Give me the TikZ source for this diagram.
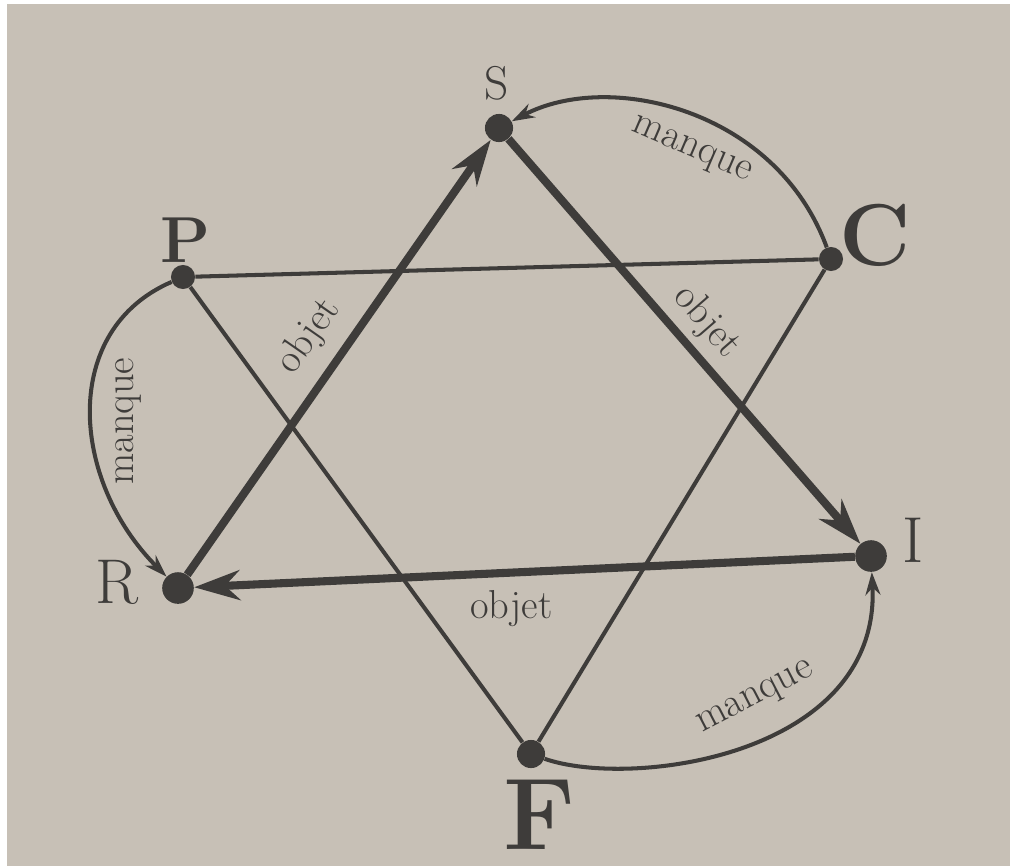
\documentclass[tikz,border=0pt]{standalone}
\usepackage{tikz}
\usetikzlibrary{arrows.meta,positioning}
\definecolor{Encre}{RGB}{62,60,58}
\definecolor{Papier}{RGB}{199,192,182}
\tikzset{
  sommet/.style={circle, fill=Encre, inner sep=0pt, minimum size=16pt},
  lettre/.style={text=Encre, inner sep=0pt},
  % thick arrows: the "objet" triangle, thin lines: the other triangle
  objetrel/.style={-{Stealth[length=26pt,width=17pt]}, line width=4.6pt, Encre},
  simplerel/.style={line width=2.3pt, Encre},
  manquerel/.style={-{Stealth[length=13pt,width=8.5pt]}, line width=2.3pt, Encre},
  etiquette/.style={font=\fontsize{23}{26}\selectfont, text=Encre, inner sep=2pt},
}

\begin{document}
\begin{tikzpicture}[x=0.02cm,y=-0.02cm]

  \useasboundingbox (0,0) rectangle (1010,866);
  \fill[white]  (0,0) rectangle (1010,866);
  \fill[Papier] (7,4) rectangle (1010,866);

  \node[sommet]                      (S) at (499,128) {};
  \node[sommet,minimum size=13.7pt]  (C) at (831,259) {};
  \node[sommet,minimum size=13.7pt]  (P) at (183,277) {};
  \node[sommet,minimum size=18pt]    (R) at (178,588) {};
  \node[sommet,minimum size=18pt]    (I) at (871,556) {};
  \node[sommet]                      (F) at (531,754) {};

  \node[lettre,font=\fontsize{27}{30}\selectfont]          (Slab) at (497,83)  {S};
  \node[lettre,font=\fontsize{50}{54}\selectfont\bfseries] (Clab) at (875,235) {C};
  \node[lettre,font=\fontsize{37}{40}\selectfont\bfseries] (Plab) at (185,240) {P};
  \node[lettre,font=\fontsize{36}{40}\selectfont]          (Rlab) at (117,582) {R};
  \node[lettre,font=\fontsize{37}{40}\selectfont]          (Ilab) at (913,540) {I};
  \node[lettre,font=\fontsize{58}{62}\selectfont\bfseries] (Flab) at (540,815) {F};

  \draw[simplerel] (P) -- (C);
  \draw[simplerel] (P) -- (F);
  \draw[simplerel] (C) -- (F);

  \draw[objetrel] (R) -- node[etiquette,sloped,above=6pt]{objet} (S);
  \draw[objetrel] (S) -- node[etiquette,sloped,above=2pt]{objet} (I);
  \draw[objetrel] (I) -- node[etiquette,pos=0.52,below=6pt]{objet} (R);

  \draw[manquerel] (C) .. controls +(-55,-150) and +(110,-58) .. node[etiquette,sloped,pos=0.45,below=9pt]{manque} (S);
  \draw[manquerel] (P) .. controls +(-123,53) and +(-108,-108) .. node[etiquette,pos=0.53,rotate=90,anchor=north,outer sep=12pt]{manque} (R);
  \draw[manquerel] (F) .. controls +(100,35) and +(10,200) .. node[etiquette,sloped,pos=0.57,above=11pt]{manque} (I);

\end{tikzpicture}
\end{document}
